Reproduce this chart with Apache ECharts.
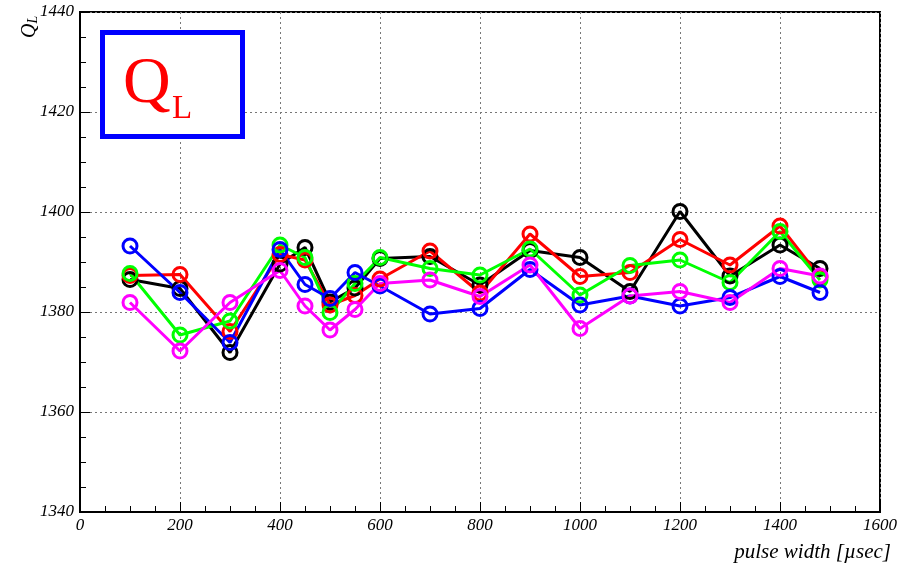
<!DOCTYPE html>
<html><head><meta charset="utf-8">
<script src="https://cdn.jsdelivr.net/npm/echarts@6/dist/echarts.min.js"></script>
<style>html,body{margin:0;padding:0;background:#fff}#c{width:914px;height:563px}</style>
</head><body><div id="c"></div>
<script>
const pulseWidth = [100,200,300,400,450,500,550,600,700,800,900,1000,1100,1200,1300,1400,1480];
const blackQ   = [1386.5,1384.7,1371.9,1389.6,1392.9,1382.0,1384.8,1390.7,1391.1,1385.4,1392.3,1390.9,1384.1,1400.1,1387.2,1393.4,1388.7];
const redQ     = [1387.3,1387.5,1376.1,1391.5,1390.4,1381.4,1383.3,1386.6,1392.2,1383.8,1395.6,1387.1,1387.9,1394.5,1389.4,1397.2,1387.0];
const greenQ   = [1387.7,1375.4,1378.2,1393.4,1390.9,1379.9,1385.7,1390.9,1388.7,1387.4,1392.6,1383.4,1389.3,1390.4,1385.9,1396.1,1386.4];
const blueQ    = [1393.2,1383.9,1373.9,1392.5,1385.5,1382.7,1387.9,1385.2,1379.6,1380.7,1388.5,1381.4,1383.2,1381.2,1382.9,1387.1,1383.9];
const magentaQ = [1381.9,1372.2,1381.9,1388.3,1381.2,1376.4,1380.5,1385.7,1386.4,1383.1,1389.4,1376.7,1383.2,1384.1,1381.9,1388.7,1387.2];
const seriesDefs = [
  {name:'black', color:'#000000', data: blackQ},
  {name:'red', color:'#ff0000', data: redQ},
  {name:'green', color:'#00ff00', data: greenQ},
  {name:'blue', color:'#0000ff', data: blueQ},
  {name:'magenta', color:'#ff00ff', data: magentaQ}
];
const chart = echarts.init(document.getElementById('c'), null, {renderer:'canvas'});
const labelFont = {fontFamily:'Liberation Serif', fontStyle:'italic', fontSize:17, color:'#000'};
chart.setOption({
  animation:false,
  grid:{left:80, top:12, width:800, height:500, show:true, borderColor:'#000', borderWidth:2, backgroundColor:'transparent'},
  xAxis:{type:'value', min:0, max:1600, interval:200,
    axisLine:{show:true, onZero:false, lineStyle:{color:'#000', width:2}},
    axisTick:{show:true, inside:true, length:10, lineStyle:{color:'#000', width:1}},
    minorTick:{show:true, splitNumber:4, length:6, lineStyle:{color:'#000', width:1}},
    splitLine:{show:true, lineStyle:{color:'#777', type:[2,3], width:1}},
    axisLabel:Object.assign({margin:5, formatter:v=>String(v)}, labelFont),
    name:'pulse width [µsec]', nameLocation:'end', nameGap:0,
    nameTextStyle:Object.assign({}, labelFont, {fontSize:21, align:'right', verticalAlign:'top', padding:[30,-11,0,0]})
  },
  yAxis:{type:'value', min:1340, max:1440, interval:20,
    axisLine:{show:true, onZero:false, lineStyle:{color:'#000', width:2}},
    axisTick:{show:true, inside:true, length:10, lineStyle:{color:'#000', width:1}},
    minorTick:{show:true, splitNumber:4, length:6, lineStyle:{color:'#000', width:1}},
    splitLine:{show:true, lineStyle:{color:'#777', type:[2,3], width:1}},
    axisLabel:Object.assign({margin:6, formatter:v=>String(v)}, labelFont)
  },
  graphic:[
    {type:'rect', left:100, top:30, shape:{width:140, height:104}, style:{fill:'#fff', stroke:'#0000ff', lineWidth:5}, z:100},
    {type:'text', x:123, y:118, z:101, style:{text:'Q', fontFamily:'Liberation Serif', fontSize:66, fill:'#ff0000', textVerticalAlign:'bottom'}},
    {type:'text', x:172, y:126, z:101, style:{text:'L', fontFamily:'Liberation Serif', fontSize:33, fill:'#ff0000', textVerticalAlign:'bottom'}},
    {type:'text', x:20, y:38, rotation:Math.PI/2, z:101, style:{
      text:'{q|Q}{l|L}', rich:{
        q:{fontFamily:'Liberation Serif', fontStyle:'italic', fontSize:20, fill:'#000'},
        l:{fontFamily:'Liberation Serif', fontStyle:'italic', fontSize:14, fill:'#000', padding:[0,0,-6,0]}
      }}}
  ],
  series: seriesDefs.map(s => ({
    name:s.name, type:'line',
    data: pulseWidth.map((x,i)=>[x, s.data[i]]),
    symbol:'circle', symbolSize:14, showSymbol:true,
    lineStyle:{color:s.color, width:3},
    itemStyle:{color:'transparent', borderColor:s.color, borderWidth:3},
    emphasis:{disabled:true}
  }))
});
</script></body></html>
